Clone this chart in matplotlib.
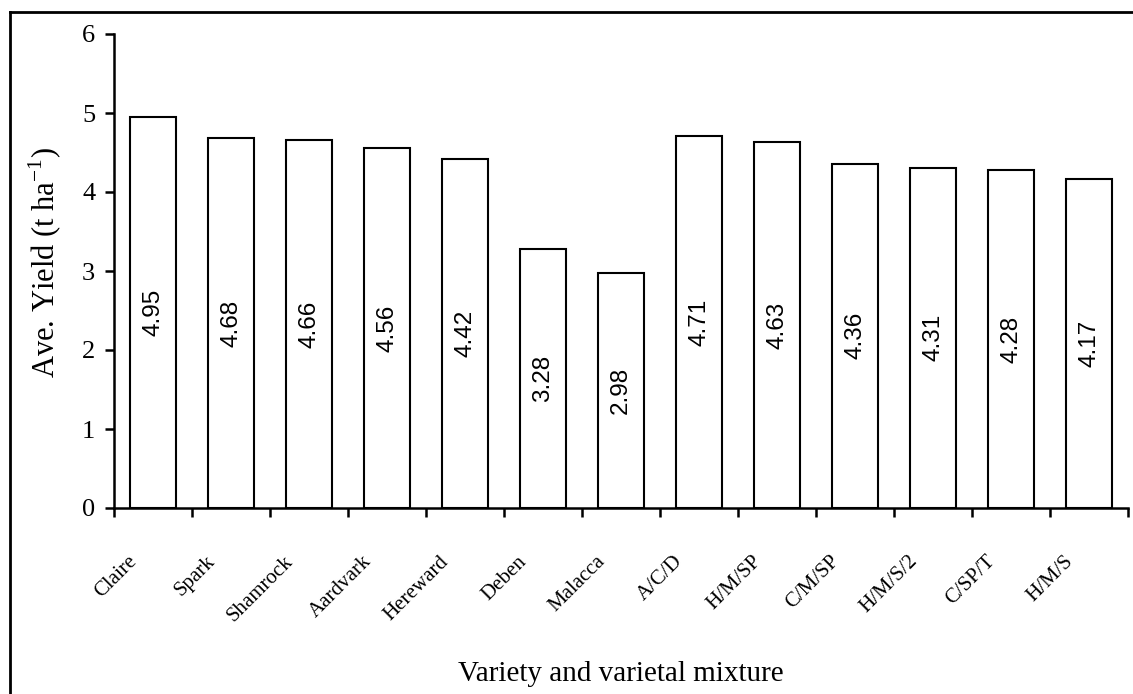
import matplotlib
matplotlib.use("Agg")
import matplotlib.pyplot as plt
from matplotlib import font_manager
from matplotlib.transforms import blended_transform_factory, ScaledTranslation
import numpy as np

categories = ["Claire", "Spark", "Shamrock", "Aardvark", "Hereward", "Deben",
              "Malacca", "A/C/D", "H/M/SP", "C/M/SP", "H/M/S/2", "C/SP/T", "H/M/S"]
yields = [4.95, 4.68, 4.66, 4.56, 4.42, 3.28, 2.98, 4.71, 4.63, 4.36, 4.31, 4.28, 4.17]
value_labels = ["4.95", "4.68", "4.66", "4.56", "4.42", "3.28", "2.98",
                "4.71", "4.63", "4.36", "4.31", "4.28", "4.17"]
yticks = [0, 1, 2, 3, 4, 5, 6]

installed = {f.name for f in font_manager.fontManager.ttflist}
serif = "Liberation Serif" if "Liberation Serif" in installed else "DejaVu Serif"
narrow = None
for cand in ["Liberation Sans Narrow", "DejaVu Sans Condensed", "Liberation Sans", "DejaVu Sans"]:
    if cand in installed:
        narrow = cand
        break

plt.rcParams['font.family'] = [serif]
plt.rcParams['mathtext.fontset'] = 'custom'
plt.rcParams['mathtext.rm'] = serif

fig = plt.figure(figsize=(11.33, 6.94), dpi=100)
ax = fig.add_axes([114/1133, 1 - 508/694, (1128-114)/1133, (508-34)/694])

x = np.arange(len(categories))
ax.bar(x, yields, width=0.59, color="white", edgecolor="black", linewidth=1.5, zorder=2)

for xi, v, lab in zip(x, yields, value_labels):
    ax.text(xi, v / 2, lab, rotation=90, ha="center", va="center",
            fontsize=17.5, family=narrow, zorder=3)

ax.set_xlim(-0.5, len(categories) - 0.5)
ax.set_ylim(0, 6)
ax.set_yticks(yticks)
ax.set_yticklabels([str(t) for t in yticks], fontsize=19)
ax.set_xticks(np.arange(len(categories) + 1) - 0.5)
ax.set_xticklabels([])

for s in ["top", "right"]:
    ax.spines[s].set_visible(False)
for s in ["left", "bottom"]:
    ax.spines[s].set_linewidth(1.8)
ax.tick_params(axis="both", direction="out", width=1.8, length=6.5)
ax.tick_params(axis="y", pad=7)

trans = blended_transform_factory(ax.transData, ax.transAxes) + \
    ScaledTranslation(-12/100, -44/100, fig.dpi_scale_trans)
for xi, name in zip(x, categories):
    ax.text(xi, 0, name, rotation=45, ha="right", va="top", fontsize=15,
            transform=trans)

fig.text(621/1133, 1 - 674/694, "Variety and varietal mixture", ha="center",
         va="center", fontsize=21)
fig.text(45/1133, 1 - 262/694, "Ave. Yield (t ha$^{-1}$)", rotation=90,
         ha="center", va="center", fontsize=22)

# figure border (top and left only)
fig.add_artist(plt.Line2D([10/1133, 1], [1 - 12/694, 1 - 12/694], color="black",
                          linewidth=2, transform=fig.transFigure))
fig.add_artist(plt.Line2D([10/1133, 10/1133], [0, 1 - 12/694], color="black",
                          linewidth=2, transform=fig.transFigure))

fig.savefig("out.png", dpi=100, facecolor="white")
